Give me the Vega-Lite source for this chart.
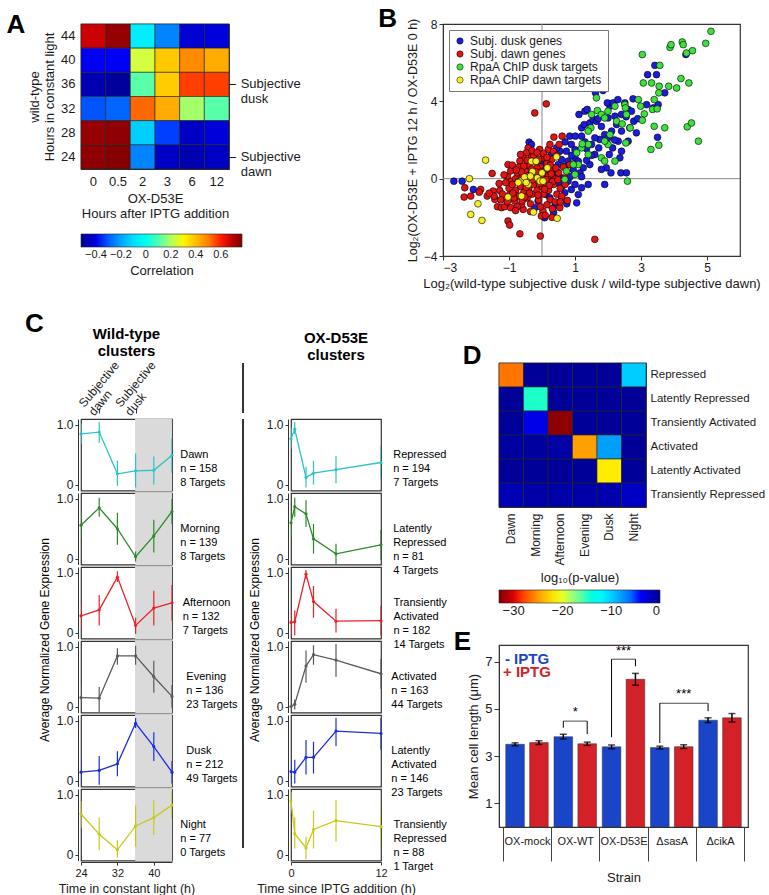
{
"$schema": "https://vega.github.io/schema/vega-lite/v6.json",
"config": {
  "font": "Liberation Sans",
  "axis": {"labelFontSize": 12, "titleFontSize": 12.5, "titleFontWeight": "normal", "labelColor": "#1a1a1a", "titleColor": "#1a1a1a", "domainColor": "#333", "tickColor": "#333", "grid": false, "labelOverlap": false},
  "view": {"stroke": "#333", "strokeWidth": 1.2},
  "legend": {"labelColor": "#1a1a1a", "titleColor": "#1a1a1a", "titleFontWeight": "normal"},
  "title": {"color": "#000"}
},
"spacing": 20,
"vconcat": [
 {"hconcat": [
  {
   "title": {"text": "A", "fontSize": 26, "fontWeight": "bold", "anchor": "start", "frame": "bounds", "dx": -22, "dy": 18},
   "width": 148, "height": 145,
   "layer": [
    {"data": {"values": [
    {"wt": 44, "ox": "0", "r": 0.67}, {"wt": 44, "ox": "0.5", "r": 0.74}, {"wt": 44, "ox": "2", "r": -0.07}, {"wt": 44, "ox": "3", "r": -0.25}, {"wt": 44, "ox": "6", "r": -0.42}, {"wt": 44, "ox": "12", "r": -0.41},
    {"wt": 40, "ox": "0", "r": -0.375}, {"wt": 40, "ox": "0.5", "r": -0.37}, {"wt": 40, "ox": "2", "r": 0.24}, {"wt": 40, "ox": "3", "r": 0.38}, {"wt": 40, "ox": "6", "r": 0.48}, {"wt": 40, "ox": "12", "r": 0.43},
    {"wt": 36, "ox": "0", "r": -0.47}, {"wt": 36, "ox": "0.5", "r": -0.5}, {"wt": 36, "ox": "2", "r": 0.11}, {"wt": 36, "ox": "3", "r": 0.376}, {"wt": 36, "ox": "6", "r": 0.577}, {"wt": 36, "ox": "12", "r": 0.577},
    {"wt": 32, "ox": "0", "r": -0.31}, {"wt": 32, "ox": "0.5", "r": -0.29}, {"wt": 32, "ox": "2", "r": 0.53}, {"wt": 32, "ox": "3", "r": 0.43}, {"wt": 32, "ox": "6", "r": 0.19}, {"wt": 32, "ox": "12", "r": 0.11},
    {"wt": 28, "ox": "0", "r": 0.74}, {"wt": 28, "ox": "0.5", "r": 0.75}, {"wt": 28, "ox": "2", "r": -0.13}, {"wt": 28, "ox": "3", "r": -0.33}, {"wt": 28, "ox": "6", "r": -0.44}, {"wt": 28, "ox": "12", "r": -0.41},
    {"wt": 24, "ox": "0", "r": 0.75}, {"wt": 24, "ox": "0.5", "r": 0.76}, {"wt": 24, "ox": "2", "r": -0.25}, {"wt": 24, "ox": "3", "r": -0.44}, {"wt": 24, "ox": "6", "r": -0.47}, {"wt": 24, "ox": "12", "r": -0.44}
    ]},
     "mark": {"type": "rect", "stroke": "#222", "strokeWidth": 0.6},
     "encoding": {
      "x": {"field": "ox", "type": "ordinal", "sort": ["0", "0.5", "2", "3", "6", "12"], "axis": {"title": ["OX-D53E", "Hours after IPTG addition"], "labelAngle": 0, "ticks": false, "domain": false, "labelFontSize": 13, "titleFontSize": 13, "labelPadding": 6}},
      "y": {"field": "wt", "type": "ordinal", "sort": [44, 40, 36, 32, 28, 24], "axis": {"title": ["wild-type", "Hours in constant light"], "ticks": false, "domain": false, "labelFontSize": 13, "titleFontSize": 13, "labelPadding": 6}},
      "color": {"field": "r", "type": "quantitative",
        "scale": {"domain": [-0.52, -0.359, -0.036, 0.286, 0.609, 0.77], "range": ["#00008f", "#0000ff", "#00ffff", "#ffff00", "#ff0000", "#800000"]},
        "legend": {"orient": "bottom", "direction": "horizontal", "gradientLength": 161, "gradientThickness": 13, "gradientStrokeColor": "#222", "gradientStrokeWidth": 0.6, "title": "Correlation", "titleOrient": "bottom", "titleAnchor": "middle", "titleFontSize": 13, "labelFontSize": 11, "values": [-0.4, -0.2, 0, 0.2, 0.4, 0.6], "labelExpr": "datum.value == 0 ? '0' : format(datum.value, '.1f')", "labelOverlap": false, "offset": 14}}
     }},
    {"data": {"values": [{"wt": 36, "s": "Subjective\ndusk"}, {"wt": 24, "s": "Subjective\ndawn"}]},
     "mark": {"type": "text", "align": "left", "baseline": "middle", "lineBreak": "\n", "fontSize": 13, "lineHeight": 15, "dx": 24, "color": "#1a1a1a"},
     "encoding": {"x": {"datum": "12", "type": "ordinal"}, "y": {"field": "wt", "type": "ordinal", "sort": [44, 40, 36, 32, 28, 24]}, "text": {"field": "s"}}},
    {"data": {"values": [{"wt": 36}, {"wt": 24}]},
     "mark": {"type": "text", "align": "left", "baseline": "middle", "fontSize": 13, "dx": 12, "text": "–", "color": "#000"},
     "encoding": {"x": {"datum": "12", "type": "ordinal"}, "y": {"field": "wt", "type": "ordinal", "sort": [44, 40, 36, 32, 28, 24]}}}
   ]
  },
  {
   "title": {"text": "B", "fontSize": 26, "fontWeight": "bold", "anchor": "start", "frame": "bounds", "dx": -28, "dy": 18},
   "width": 297, "height": 232,
   "layer": [
    {"data": {"values": [{"v": 0}]}, "mark": {"type": "rule", "color": "#888", "strokeWidth": 1}, "encoding": {"x": {"field": "v", "type": "quantitative"}}},
    {"data": {"values": [{"v": 0}]}, "mark": {"type": "rule", "color": "#888", "strokeWidth": 1}, "encoding": {"y": {"field": "v", "type": "quantitative"}}},
    {"data": {"values": [
{"g":"a","x":-2.67,"y":-0.13},{"g":"a","x":-2.42,"y":-0.13},{"g":"a","x":-2.08,"y":-0.56},{"g":"a","x":-0.39,"y":1.89},{"g":"a","x":-0.32,"y":1.77},{"g":"a","x":-0.05,"y":0.82},{"g":"a","x":0.29,"y":1.25},{"g":"a","x":0.13,"y":0.99},{"g":"a","x":0.03,"y":0.65},{"g":"a","x":0.34,"y":0.13},{"g":"a","x":0.29,"y":-0.13},{"g":"a","x":0.13,"y":-0.82},{"g":"a","x":-0.12,"y":-1.16},{"g":"a","x":-0.22,"y":-1.5},{"g":"a","x":0.08,"y":-2.02},{"g":"a","x":0.19,"y":-0.47},{"g":"a","x":0.24,"y":-0.99},{"g":"a","x":0.39,"y":-1.42},{"g":"a","x":0.59,"y":-1.07},{"g":"a","x":0.69,"y":-0.73},{"g":"a","x":0.89,"y":-0.56},{"g":"a","x":1.05,"y":-1.25},{"g":"a","x":0.79,"y":-0.13},{"g":"a","x":0.59,"y":0.04},{"g":"a","x":0.44,"y":0.39},{"g":"a","x":0.49,"y":0.73},{"g":"a","x":0.59,"y":0.99},{"g":"a","x":0.74,"y":1.42},{"g":"a","x":0.89,"y":1.77},{"g":"a","x":0.84,"y":2.2},{"g":"a","x":1.01,"y":2.2},{"g":"a","x":1.2,"y":2.2},{"g":"a","x":1.2,"y":2.63},{"g":"a","x":1.12,"y":3.32},{"g":"a","x":1.3,"y":3.49},{"g":"a","x":1.37,"y":3.58},{"g":"a","x":1.28,"y":2.8},{"g":"a","x":1.45,"y":2.88},{"g":"a","x":1.55,"y":3.06},{"g":"a","x":1.65,"y":2.97},{"g":"a","x":1.75,"y":2.03},{"g":"a","x":1.9,"y":2.28},{"g":"a","x":2.11,"y":2.46},{"g":"a","x":2.41,"y":2.46},{"g":"a","x":2.26,"y":2.8},{"g":"a","x":2.0,"y":3.14},{"g":"a","x":2.21,"y":3.23},{"g":"a","x":2.06,"y":3.75},{"g":"a","x":1.98,"y":3.92},{"g":"a","x":2.15,"y":3.92},{"g":"a","x":2.3,"y":4.09},{"g":"a","x":2.51,"y":3.92},{"g":"a","x":2.76,"y":4.13},{"g":"a","x":2.61,"y":3.58},{"g":"a","x":2.71,"y":3.49},{"g":"a","x":2.86,"y":2.37},{"g":"a","x":2.41,"y":3.32},{"g":"a","x":1.85,"y":4.56},{"g":"a","x":1.62,"y":4.44},{"g":"a","x":1.68,"y":5.33},{"g":"a","x":3.42,"y":5.86},{"g":"a","x":3.47,"y":5.38},{"g":"a","x":3.2,"y":5.38},{"g":"a","x":4.36,"y":6.42},{"g":"a","x":3.72,"y":4.44},{"g":"a","x":3.5,"y":2.14},{"g":"a","x":3.52,"y":3.83},{"g":"a","x":3.37,"y":3.66},{"g":"a","x":3.17,"y":3.83},{"g":"a","x":2.66,"y":2.63},{"g":"a","x":2.78,"y":2.97},{"g":"a","x":1.4,"y":-0.3},{"g":"a","x":1.2,"y":-0.47},{"g":"a","x":1.1,"y":-0.82},{"g":"a","x":1.9,"y":-0.3},{"g":"a","x":1.95,"y":0.56},{"g":"a","x":2.09,"y":0.3},{"g":"a","x":2.39,"y":0.3},{"g":"a","x":2.56,"y":0.3},{"g":"a","x":2.14,"y":1.59},{"g":"a","x":2.41,"y":1.42},{"g":"a","x":2.61,"y":1.94},{"g":"a","x":2.36,"y":1.08},{"g":"a","x":1.5,"y":1.77},{"g":"a","x":1.6,"y":2.11},{"g":"a","x":1.72,"y":1.59},{"g":"a","x":1.6,"y":1.25},{"g":"a","x":1.45,"y":0.73},{"g":"a","x":1.25,"y":0.56},{"g":"a","x":1.15,"y":0.3},{"g":"a","x":1.0,"y":1.08},{"g":"a","x":0.79,"y":0.91},{"g":"a","x":0.69,"y":0.65},{"g":"a","x":0.54,"y":1.42},{"g":"a","x":0.44,"y":1.59},{"g":"a","x":2.04,"y":1.25},{"g":"a","x":1.8,"y":0.48},{"g":"a","x":2.31,"y":1.94},{"g":"a","x":2.0,"y":2.11},{"g":"a","x":1.3,"y":1.9},{"g":"a","x":1.0,"y":1.5},{"g":"a","x":0.9,"y":1.2},{"g":"a","x":1.1,"y":0.9},{"g":"a","x":0.7,"y":1.9},{"g":"a","x":1.5,"y":1.2},{"g":"a","x":1.35,"y":1.55},{"g":"a","x":0.95,"y":0.45},{"g":"a","x":1.2,"y":0.1},{"g":"a","x":0.85,"y":0.1},{"g":"a","x":0.6,"y":-0.4},{"g":"a","x":1.0,"y":-0.3},{"g":"a","x":0.3,"y":0.6},{"g":"a","x":0.2,"y":0.3},{"g":"a","x":0.5,"y":-0.2},{"g":"a","x":2.55,"y":3.2},{"g":"a","x":2.2,"y":2.0},{"g":"a","x":1.8,"y":2.7},{"g":"a","x":1.7,"y":3.1},{"g":"a","x":2.9,"y":3.1},{"g":"a","x":1.35,"y":0.95},{"g":"a","x":0.75,"y":-1.3},{"g":"a","x":0.35,"y":-1.75},
{"g":"b","x":-0.22,"y":3.4},{"g":"b","x":0.13,"y":3.87},{"g":"b","x":1.6,"y":-3.14},{"g":"b","x":-0.05,"y":-2.97},{"g":"b","x":-0.67,"y":-2.85},{"g":"b","x":-1.03,"y":-2.19},{"g":"b","x":-0.98,"y":-2.4},{"g":"b","x":-1.51,"y":0.27},{"g":"b","x":-2.34,"y":-0.47},{"g":"b","x":-2.36,"y":-0.95},{"g":"b","x":-2.16,"y":-0.9},{"g":"b","x":-1.86,"y":-0.56},{"g":"b","x":-1.66,"y":-0.9},{"g":"b","x":-1.48,"y":-0.64},{"g":"b","x":-1.43,"y":-1.07},{"g":"b","x":-1.35,"y":-1.45},{"g":"b","x":-1.28,"y":-0.61},{"g":"b","x":-1.23,"y":-1.5},{"g":"b","x":-1.13,"y":-1.45},{"g":"b","x":-1.03,"y":0.73},{"g":"b","x":-1.05,"y":0.13},{"g":"b","x":-0.93,"y":-0.13},{"g":"b","x":-0.42,"y":1.59},{"g":"b","x":-0.32,"y":1.16},{"g":"b","x":-0.47,"y":1.34},{"g":"b","x":-0.57,"y":1.08},{"g":"b","x":-0.67,"y":0.91},{"g":"b","x":0.03,"y":1.08},{"g":"b","x":-0.07,"y":1.51},{"g":"b","x":0.19,"y":1.51},{"g":"b","x":0.24,"y":1.77},{"g":"b","x":0.36,"y":2.15},{"g":"b","x":0.61,"y":2.2},{"g":"b","x":0.52,"y":1.77},{"g":"b","x":0.77,"y":-1.13},{"g":"b","x":0.54,"y":-1.5},{"g":"b","x":0.31,"y":-1.56},{"g":"b","x":0.03,"y":-1.68},{"g":"b","x":-0.02,"y":-1.93},{"g":"b","x":-0.57,"y":-1.59},{"g":"b","x":-0.62,"y":-1.33},{"g":"b","x":-0.83,"y":-1.16},{"g":"b","x":-0.98,"y":-0.82},{"g":"b","x":-1.13,"y":-1.0},{"g":"b","x":0.69,"y":0.04},{"g":"b","x":0.84,"y":0.73},
{"g":"b","x":-1.0,"y":-0.5},{"g":"b","x":-0.9,"y":-0.3},{"g":"b","x":-0.8,"y":-0.6},{"g":"b","x":-0.8,"y":0.0},{"g":"b","x":-0.75,"y":0.3},{"g":"b","x":-0.7,"y":-0.9},{"g":"b","x":-0.7,"y":0.6},{"g":"b","x":-0.65,"y":-0.4},{"g":"b","x":-0.6,"y":0.1},{"g":"b","x":-0.55,"y":-0.7},{"g":"b","x":-0.5,"y":0.4},{"g":"b","x":-0.5,"y":-0.2},{"g":"b","x":-0.45,"y":-1.0},{"g":"b","x":-0.4,"y":0.7},{"g":"b","x":-0.4,"y":-0.5},{"g":"b","x":-0.35,"y":0.2},{"g":"b","x":-0.3,"y":-0.8},{"g":"b","x":-0.3,"y":0.5},{"g":"b","x":-0.25,"y":-0.3},{"g":"b","x":-0.2,"y":0.9},{"g":"b","x":-0.2,"y":0.0},{"g":"b","x":-0.15,"y":-0.6},{"g":"b","x":-0.1,"y":0.3},{"g":"b","x":-0.1,"y":-1.1},{"g":"b","x":-0.05,"y":0.6},{"g":"b","x":0.0,"y":-0.4},{"g":"b","x":0.0,"y":0.1},{"g":"b","x":0.05,"y":-0.8},{"g":"b","x":0.1,"y":0.45},{"g":"b","x":0.1,"y":-0.2},{"g":"b","x":0.15,"y":0.8},{"g":"b","x":0.2,"y":-0.6},{"g":"b","x":0.2,"y":0.15},{"g":"b","x":0.25,"y":-1.1},{"g":"b","x":0.3,"y":0.5},{"g":"b","x":0.35,"y":-0.3},{"g":"b","x":0.4,"y":0.0},{"g":"b","x":0.45,"y":-0.8},{"g":"b","x":0.5,"y":0.3},{"g":"b","x":0.55,"y":-0.5},{"g":"b","x":-0.95,"y":0.4},{"g":"b","x":-0.85,"y":-1.0},{"g":"b","x":-0.6,"y":-1.15},{"g":"b","x":-0.45,"y":0.95},{"g":"b","x":-0.25,"y":1.2},{"g":"b","x":0.05,"y":1.3},{"g":"b","x":0.3,"y":1.0},{"g":"b","x":-0.9,"y":0.7},{"g":"b","x":-1.1,"y":-0.2},{"g":"b","x":-1.15,"y":0.2},{"g":"b","x":-1.2,"y":-0.8},{"g":"b","x":-0.65,"y":1.25},{"g":"b","x":-0.35,"y":-1.3},{"g":"b","x":0.15,"y":-1.35},{"g":"b","x":0.4,"y":-1.2},{"g":"b","x":0.6,"y":-0.9},{"g":"b","x":0.65,"y":0.6},{"g":"b","x":-0.55,"y":0.65},{"g":"b","x":-0.15,"y":0.55},{"g":"b","x":0.25,"y":0.7},{"g":"b","x":-0.72,"y":-0.15},{"g":"b","x":-0.48,"y":-0.45},{"g":"b","x":-0.28,"y":-0.05},{"g":"b","x":-0.08,"y":-0.25},{"g":"b","x":0.12,"y":-0.05},{"g":"b","x":0.32,"y":-0.15},{"g":"b","x":-0.62,"y":0.35},{"g":"b","x":-0.38,"y":-0.75},{"g":"b","x":-0.18,"y":0.35},{"g":"b","x":0.02,"y":0.35},{"g":"b","x":0.22,"y":-0.35},{"g":"b","x":0.42,"y":0.55},{"g":"b","x":-0.88,"y":-0.75},{"g":"b","x":-0.52,"y":-0.95},{"g":"b","x":-0.12,"y":-0.85},{"g":"b","x":0.08,"y":-0.55},{"g":"b","x":0.28,"y":0.25},{"g":"b","x":-0.78,"y":0.45},{"g":"b","x":-0.42,"y":0.15},{"g":"b","x":0.48,"y":-0.05},{"g":"b","x":-1.25,"y":-1.1},{"g":"b","x":-1.45,"y":-0.9},{"g":"b","x":-1.6,"y":-0.75},{"g":"b","x":-1.9,"y":-0.7},{"g":"b","x":-1.3,"y":-0.25},{"g":"b","x":-1.05,"y":-1.2},{"g":"b","x":-0.95,"y":-1.5},{"g":"b","x":-0.75,"y":-1.45},{"g":"b","x":-0.8,"y":-1.65},{"g":"b","x":-0.35,"y":-1.7},{"g":"b","x":0.3,"y":-2.0},{"g":"b","x":0.1,"y":-1.9},{"g":"b","x":-0.05,"y":-1.45},{"g":"b","x":0.55,"y":-1.2},{"g":"b","x":0.35,"y":1.4},{"g":"b","x":-0.1,"y":1.0},{"g":"b","x":-0.3,"y":1.45},{"g":"b","x":0.45,"y":1.2},{"g":"b","x":0.7,"y":-0.3},{"g":"b","x":0.15,"y":1.1},{"g":"b","x":-0.15,"y":1.35},
{"g":"c","x":1.6,"y":6.42},{"g":"c","x":1.65,"y":4.18},{"g":"c","x":1.48,"y":2.63},{"g":"c","x":1.68,"y":3.52},{"g":"c","x":1.8,"y":3.32},{"g":"c","x":1.9,"y":3.14},{"g":"c","x":2.0,"y":3.49},{"g":"c","x":2.06,"y":2.28},{"g":"c","x":2.0,"y":1.77},{"g":"c","x":1.8,"y":1.08},{"g":"c","x":1.9,"y":0.91},{"g":"c","x":2.21,"y":0.91},{"g":"c","x":2.26,"y":2.97},{"g":"c","x":2.43,"y":2.83},{"g":"c","x":2.51,"y":3.83},{"g":"c","x":2.53,"y":3.66},{"g":"c","x":2.56,"y":3.32},{"g":"c","x":2.54,"y":1.85},{"g":"c","x":2.59,"y":-0.13},{"g":"c","x":2.67,"y":2.63},{"g":"c","x":2.92,"y":4.09},{"g":"c","x":2.99,"y":3.75},{"g":"c","x":3.04,"y":6.42},{"g":"c","x":3.07,"y":4.95},{"g":"c","x":3.1,"y":3.35},{"g":"c","x":3.04,"y":3.02},{"g":"c","x":3.3,"y":1.51},{"g":"c","x":3.32,"y":4.95},{"g":"c","x":3.35,"y":3.58},{"g":"c","x":3.4,"y":4.09},{"g":"c","x":3.4,"y":2.71},{"g":"c","x":3.49,"y":3.61},{"g":"c","x":3.54,"y":4.44},{"g":"c","x":3.55,"y":4.78},{"g":"c","x":3.57,"y":5.86},{"g":"c","x":3.54,"y":1.73},{"g":"c","x":3.72,"y":2.63},{"g":"c","x":3.84,"y":4.78},{"g":"c","x":3.88,"y":6.79},{"g":"c","x":3.91,"y":6.93},{"g":"c","x":4.08,"y":4.69},{"g":"c","x":4.21,"y":5.18},{"g":"c","x":4.25,"y":7.07},{"g":"c","x":4.28,"y":6.93},{"g":"c","x":4.38,"y":6.5},{"g":"c","x":4.4,"y":2.68},{"g":"c","x":4.45,"y":4.95},{"g":"c","x":4.53,"y":2.88},{"g":"c","x":4.56,"y":6.62},{"g":"c","x":4.74,"y":1.94},{"g":"c","x":4.96,"y":7.0},{"g":"c","x":5.12,"y":7.62},{"g":"c","x":1.4,"y":2.46},{"g":"c","x":1.1,"y":0.73},{"g":"c","x":1.2,"y":1.59},{"g":"c","x":1.4,"y":1.77},{"g":"c","x":1.0,"y":0.22},{"g":"c","x":0.95,"y":0.73},{"g":"c","x":1.05,"y":1.34},{"g":"c","x":1.22,"y":1.8},{"g":"c","x":0.69,"y":-0.04},{"g":"c","x":0.74,"y":0.39},{"g":"c","x":1.5,"y":3.32},{"g":"c","x":2.21,"y":3.75},{"g":"c","x":1.4,"y":1.25},{"g":"c","x":1.9,"y":1.94},
{"g":"d","x":-2.2,"y":0.0},{"g":"d","x":-2.16,"y":-1.85},{"g":"d","x":-1.94,"y":-1.3},{"g":"d","x":-1.82,"y":-2.16},{"g":"d","x":-1.71,"y":0.96},{"g":"d","x":-1.03,"y":-0.95},{"g":"d","x":-0.65,"y":-0.13},{"g":"d","x":-0.62,"y":-0.9},{"g":"d","x":-0.53,"y":0.08},{"g":"d","x":-0.42,"y":-0.3},{"g":"d","x":-0.32,"y":0.9},{"g":"d","x":-0.29,"y":0.36},{"g":"d","x":-0.26,"y":-1.73},{"g":"d","x":-0.18,"y":0.9},{"g":"d","x":-0.14,"y":0.04},{"g":"d","x":-0.06,"y":-0.13},{"g":"d","x":0.0,"y":0.3},{"g":"d","x":0.03,"y":-0.13},{"g":"d","x":0.16,"y":0.56},{"g":"d","x":0.44,"y":1.13},{"g":"d","x":0.46,"y":-2.05},{"g":"d","x":-0.48,"y":-0.2},{"g":"d","x":-0.72,"y":-0.2},{"g":"d","x":-0.35,"y":0.13}
    ]},
     "mark": {"type": "circle", "size": 46, "stroke": "#000", "strokeWidth": 0.6, "opacity": 1},
     "encoding": {
      "x": {"field": "x", "type": "quantitative", "scale": {"domain": [-3, 6], "nice": false}, "axis": {"title": "Log₂(wild-type subjective dusk / wild-type subjective dawn)", "values": [-3, -2, -1, 0, 1, 2, 3, 4, 5, 6], "labelFontSize": 12, "titleFontSize": 13, "tickSize": 4, "labelOverlap": false}},
      "y": {"field": "y", "type": "quantitative", "scale": {"domain": [-4, 8], "nice": false}, "axis": {"title": "Log₂(OX-D53E + IPTG 12 h / OX-D53E 0 h)", "values": [-4, -2, 0, 2, 4, 6, 8], "labelFontSize": 12, "titleFontSize": 12.5, "tickSize": 4, "labelOverlap": false}},
      "color": {"field": "g", "type": "nominal", "scale": {"domain": ["a", "b", "c", "d"], "range": ["#1c1ce0", "#e01414", "#3ee03e", "#f5ee22"]},
        "legend": {"orient": "top-left", "title": null, "labelExpr": "datum.value == 'a' ? 'Subj. dusk genes' : datum.value == 'b' ? 'Subj. dawn genes' : datum.value == 'c' ? 'RpaA ChIP dusk targets' : 'RpaA ChIP dawn targets'", "labelFontSize": 12, "symbolType": "circle", "symbolSize": 40, "symbolStrokeColor": "#000", "symbolStrokeWidth": 0.5, "strokeColor": "#777", "fillColor": "#fff", "padding": 5, "offset": 6, "rowPadding": 1}}
     }}
   ]
  }
 ], "spacing": 75},
 {"hconcat": [
  {"title": {"text": "C", "fontSize": 26, "fontWeight": "bold", "anchor": "start", "frame": "bounds", "dx": -14, "dy": 14},
   "columns": 3,
   "align": "each",
   "spacing": {"row": 0, "column": 4},
   "concat": [
    {
     "title": {"text": ["Wild-type", "clusters"], "fontSize": 15, "fontWeight": "bold", "anchor": "middle", "frame": "group", "offset": 0},
     "width": 91, "height": 50,
     "view": {"stroke": null},
     "data": {"values": [{"t": 28, "s": "Subjective\ndawn"}, {"t": 36, "s": "Subjective\ndusk"}]},
     "mark": {"type": "text", "angle": -50, "align": "left", "baseline": "middle", "lineBreak": "\n", "lineHeight": 13, "fontSize": 12, "radius": 18, "theta": -1.5708, "color": "#1a1a1a"},
     "encoding": {
      "x": {"field": "t", "type": "quantitative", "scale": {"domain": [24, 44], "nice": false, "zero": false},
        "axis": {"orient": "top", "offset": -50, "title": null, "values": [28, 36], "labels": false, "tickSize": 5, "domain": false}},
      "y": {"datum": 0.15, "type": "quantitative", "scale": {"domain": [0, 1]}, "axis": null},
      "text": {"field": "s"}
     }
    },
    {
     "width": 1, "height": 50,
     "view": {"stroke": null},
     "data": {"values": [{"p": 0}]},
     "mark": {"type": "rule", "color": "#000", "strokeWidth": 1.6},
     "encoding": {"x": {"field": "p", "type": "quantitative", "axis": null, "scale": {"domain": [0, 1]}}}
    },
    {
     "title": {"text": ["OX-D53E", "clusters"], "fontSize": 15, "fontWeight": "bold", "anchor": "middle", "frame": "group", "offset": 0},
     "width": 90, "height": 50,
     "view": {"stroke": null},
     "data": {"values": [{"t": 0}]},
     "mark": {"type": "point", "opacity": 0},
     "encoding": {"x": {"field": "t", "type": "quantitative", "axis": null, "scale": {"domain": [0, 12]}}}
    },
    {
     "data": {"values": [
      {"c":"Dawn|n = 158|8 Targets","t":24,"v":0.85,"lo":0.68,"hi":1.02},{"c":"Dawn|n = 158|8 Targets","t":28,"v":0.88,"lo":0.7,"hi":1.05},{"c":"Dawn|n = 158|8 Targets","t":32,"v":0.18,"lo":-0.02,"hi":0.4},{"c":"Dawn|n = 158|8 Targets","t":36,"v":0.23,"lo":-0.05,"hi":0.52},{"c":"Dawn|n = 158|8 Targets","t":40,"v":0.24,"lo":0.0,"hi":0.47},{"c":"Dawn|n = 158|8 Targets","t":44,"v":0.49,"lo":0.2,"hi":0.78},
      {"c":"Morning|n = 139|8 Targets","t":24,"v":0.56,"lo":0.35,"hi":0.78},{"c":"Morning|n = 139|8 Targets","t":28,"v":0.85,"lo":0.7,"hi":1.02},{"c":"Morning|n = 139|8 Targets","t":32,"v":0.5,"lo":0.23,"hi":0.77},{"c":"Morning|n = 139|8 Targets","t":36,"v":0.03,"lo":-0.05,"hi":0.12},{"c":"Morning|n = 139|8 Targets","t":40,"v":0.38,"lo":0.1,"hi":0.65},{"c":"Morning|n = 139|8 Targets","t":44,"v":0.79,"lo":0.58,"hi":1.0},
      {"c":"Afternoon|n = 132|7 Targets","t":24,"v":0.28,"lo":0.05,"hi":0.5},{"c":"Afternoon|n = 132|7 Targets","t":28,"v":0.38,"lo":0.12,"hi":0.63},{"c":"Afternoon|n = 132|7 Targets","t":32,"v":0.93,"lo":0.85,"hi":1.03},{"c":"Afternoon|n = 132|7 Targets","t":36,"v":0.12,"lo":-0.02,"hi":0.25},{"c":"Afternoon|n = 132|7 Targets","t":40,"v":0.41,"lo":0.12,"hi":0.7},{"c":"Afternoon|n = 132|7 Targets","t":44,"v":0.5,"lo":0.2,"hi":0.8},
      {"c":"Evening|n = 136|23 Targets","t":24,"v":0.15,"lo":-0.05,"hi":0.35},{"c":"Evening|n = 136|23 Targets","t":28,"v":0.14,"lo":-0.1,"hi":0.33},{"c":"Evening|n = 136|23 Targets","t":32,"v":0.85,"lo":0.7,"hi":0.98},{"c":"Evening|n = 136|23 Targets","t":36,"v":0.85,"lo":0.7,"hi":1.02},{"c":"Evening|n = 136|23 Targets","t":40,"v":0.5,"lo":0.23,"hi":0.77},{"c":"Evening|n = 136|23 Targets","t":44,"v":0.17,"lo":-0.02,"hi":0.36},
      {"c":"Dusk|n = 212|49 Targets","t":24,"v":0.14,"lo":-0.05,"hi":0.35},{"c":"Dusk|n = 212|49 Targets","t":28,"v":0.17,"lo":-0.07,"hi":0.41},{"c":"Dusk|n = 212|49 Targets","t":32,"v":0.28,"lo":0.07,"hi":0.49},{"c":"Dusk|n = 212|49 Targets","t":36,"v":0.96,"lo":0.88,"hi":1.05},{"c":"Dusk|n = 212|49 Targets","t":40,"v":0.57,"lo":0.33,"hi":0.81},{"c":"Dusk|n = 212|49 Targets","t":44,"v":0.14,"lo":-0.05,"hi":0.33},
      {"c":"Night|n = 77|0 Targets","t":24,"v":0.68,"lo":0.45,"hi":0.9},{"c":"Night|n = 77|0 Targets","t":28,"v":0.34,"lo":0.07,"hi":0.62},{"c":"Night|n = 77|0 Targets","t":32,"v":0.08,"lo":-0.05,"hi":0.24},{"c":"Night|n = 77|0 Targets","t":36,"v":0.48,"lo":0.13,"hi":0.82},{"c":"Night|n = 77|0 Targets","t":40,"v":0.62,"lo":0.33,"hi":0.91},{"c":"Night|n = 77|0 Targets","t":44,"v":0.83,"lo":0.6,"hi":1.06}
     ]},
     "facet": {"row": {"field": "c", "type": "nominal", "title": "Average Normalized Gene Expression",
       "sort": ["Dawn|n = 158|8 Targets", "Morning|n = 139|8 Targets", "Afternoon|n = 132|7 Targets", "Evening|n = 136|23 Targets", "Dusk|n = 212|49 Targets", "Night|n = 77|0 Targets"],
       "header": {"labelOrient": "right", "labelAngle": 0, "labelAlign": "left", "labelBaseline": "middle", "labelFontSize": 11, "labelLineHeight": 14, "labelPadding": -40, "labelExpr": "split(datum.value, '|')", "titleOrient": "left", "titleFontSize": 12, "titleFontWeight": "normal", "titlePadding": -6}}},
     "spacing": 0,
     "spec": {
      "width": 91, "height": 71.5,
      "layer": [
       {"mark": {"type": "rect", "color": "#dadada"}, "encoding": {"x": {"datum": 36, "type": "quantitative", "scale": {"domain": [24, 44], "nice": false, "zero": false}}, "x2": {"datum": 44}}},
       {"mark": {"type": "rule", "clip": true, "strokeWidth": 1.2},
        "encoding": {
         "x": {"field": "t", "type": "quantitative", "scale": {"domain": [24, 44], "nice": false, "zero": false}, "axis": {"title": "Time in constant light (h)", "values": [24, 28, 32, 36, 40, 44], "tickSize": 3, "labelFontSize": 11, "labelOverlap": false, "labelFlush": false}},
         "y": {"field": "lo", "type": "quantitative", "scale": {"domain": [-0.1, 1.1], "nice": false}, "axis": {"title": null, "values": [0, 0.5, 1], "labelExpr": "datum.value == 0 ? '0' : format(datum.value, '.1f')", "tickSize": 3, "labelOverlap": false}},
         "y2": {"field": "hi"},
         "color": {"field": "c", "type": "nominal", "scale": {"domain": ["Dawn|n = 158|8 Targets", "Morning|n = 139|8 Targets", "Afternoon|n = 132|7 Targets", "Evening|n = 136|23 Targets", "Dusk|n = 212|49 Targets", "Night|n = 77|0 Targets"], "range": ["#2cc4c4", "#2a8a2a", "#ec2027", "#5a5a5a", "#1c2de0", "#c9c91c"]}, "legend": null}
        }},
       {"mark": {"type": "line", "strokeWidth": 1.3, "clip": true},
        "encoding": {"x": {"field": "t", "type": "quantitative"}, "y": {"field": "v", "type": "quantitative"}, "color": {"field": "c", "type": "nominal", "legend": null}}},
       {"mark": {"type": "point", "filled": true, "size": 10, "opacity": 1},
        "encoding": {"x": {"field": "t", "type": "quantitative"}, "y": {"field": "v", "type": "quantitative"}, "color": {"field": "c", "type": "nominal", "legend": null}}}
      ]
     }
    },
    {
     "width": 1, "height": 429,
     "view": {"stroke": null},
     "data": {"values": [{"p": 0}]},
     "mark": {"type": "rule", "color": "#000", "strokeWidth": 1.6},
     "encoding": {"x": {"field": "p", "type": "quantitative", "axis": null, "scale": {"domain": [0, 1]}}}
    },
    {
     "data": {"values": [
      {"c":"Repressed|n = 194|7 Targets","t":0,"v":0.77,"lo":0.6,"hi":0.95},{"c":"Repressed|n = 194|7 Targets","t":0.5,"v":0.93,"lo":0.85,"hi":1.05},{"c":"Repressed|n = 194|7 Targets","t":2,"v":0.12,"lo":-0.05,"hi":0.3},{"c":"Repressed|n = 194|7 Targets","t":3,"v":0.19,"lo":0.0,"hi":0.4},{"c":"Repressed|n = 194|7 Targets","t":6,"v":0.25,"lo":0.02,"hi":0.48},{"c":"Repressed|n = 194|7 Targets","t":12,"v":0.37,"lo":0.1,"hi":0.65},
      {"c":"Latently|Repressed|n = 81|4 Targets","t":0,"v":0.6,"lo":0.35,"hi":0.85},{"c":"Latently|Repressed|n = 81|4 Targets","t":0.5,"v":0.87,"lo":0.7,"hi":1.02},{"c":"Latently|Repressed|n = 81|4 Targets","t":2,"v":0.75,"lo":0.53,"hi":0.98},{"c":"Latently|Repressed|n = 81|4 Targets","t":3,"v":0.33,"lo":0.08,"hi":0.58},{"c":"Latently|Repressed|n = 81|4 Targets","t":6,"v":0.08,"lo":-0.1,"hi":0.25},{"c":"Latently|Repressed|n = 81|4 Targets","t":12,"v":0.23,"lo":-0.02,"hi":0.48},
      {"c":"Transiently|Activated|n = 182|14 Targets","t":0,"v":0.17,"lo":-0.02,"hi":0.36},{"c":"Transiently|Activated|n = 182|14 Targets","t":0.5,"v":0.18,"lo":-0.05,"hi":0.37},{"c":"Transiently|Activated|n = 182|14 Targets","t":2,"v":0.98,"lo":0.9,"hi":1.05},{"c":"Transiently|Activated|n = 182|14 Targets","t":3,"v":0.52,"lo":0.25,"hi":0.78},{"c":"Transiently|Activated|n = 182|14 Targets","t":6,"v":0.19,"lo":0.0,"hi":0.4},{"c":"Transiently|Activated|n = 182|14 Targets","t":12,"v":0.2,"lo":-0.05,"hi":0.45},
      {"c":"Activated|n = 163|44 Targets","t":0,"v":0.0,"lo":-0.05,"hi":0.05},{"c":"Activated|n = 163|44 Targets","t":0.5,"v":0.04,"lo":-0.05,"hi":0.12},{"c":"Activated|n = 163|44 Targets","t":2,"v":0.68,"lo":0.4,"hi":0.94},{"c":"Activated|n = 163|44 Targets","t":3,"v":0.87,"lo":0.7,"hi":1.03},{"c":"Activated|n = 163|44 Targets","t":6,"v":0.78,"lo":0.5,"hi":1.05},{"c":"Activated|n = 163|44 Targets","t":12,"v":0.55,"lo":0.3,"hi":0.8},
      {"c":"Latently|Activated|n = 146|23 Targets","t":0,"v":0.15,"lo":-0.05,"hi":0.35},{"c":"Latently|Activated|n = 146|23 Targets","t":0.5,"v":0.14,"lo":-0.05,"hi":0.35},{"c":"Latently|Activated|n = 146|23 Targets","t":2,"v":0.39,"lo":0.1,"hi":0.68},{"c":"Latently|Activated|n = 146|23 Targets","t":3,"v":0.39,"lo":0.12,"hi":0.65},{"c":"Latently|Activated|n = 146|23 Targets","t":6,"v":0.83,"lo":0.58,"hi":1.05},{"c":"Latently|Activated|n = 146|23 Targets","t":12,"v":0.79,"lo":0.52,"hi":1.05},
      {"c":"Transiently|Repressed|n = 88|1 Target","t":0,"v":0.9,"lo":0.75,"hi":1.05},{"c":"Transiently|Repressed|n = 88|1 Target","t":0.5,"v":0.35,"lo":0.1,"hi":0.62},{"c":"Transiently|Repressed|n = 88|1 Target","t":2,"v":0.11,"lo":-0.08,"hi":0.3},{"c":"Transiently|Repressed|n = 88|1 Target","t":3,"v":0.42,"lo":0.1,"hi":0.74},{"c":"Transiently|Repressed|n = 88|1 Target","t":6,"v":0.57,"lo":0.22,"hi":0.92},{"c":"Transiently|Repressed|n = 88|1 Target","t":12,"v":0.47,"lo":0.15,"hi":0.78}
     ]},
     "facet": {"row": {"field": "c", "type": "nominal", "title": "Average Normalized Gene Expression",
       "sort": ["Repressed|n = 194|7 Targets", "Latently|Repressed|n = 81|4 Targets", "Transiently|Activated|n = 182|14 Targets", "Activated|n = 163|44 Targets", "Latently|Activated|n = 146|23 Targets", "Transiently|Repressed|n = 88|1 Target"],
       "header": {"labelOrient": "right", "labelAngle": 0, "labelAlign": "left", "labelBaseline": "middle", "labelFontSize": 11, "labelLineHeight": 14, "labelPadding": -44, "labelExpr": "split(datum.value, '|')", "titleOrient": "left", "titleFontSize": 12, "titleFontWeight": "normal", "titlePadding": -6}}},
     "spacing": 0,
     "spec": {
      "width": 90, "height": 71.5,
      "layer": [
       {"mark": {"type": "rule", "clip": true, "strokeWidth": 1.2},
        "encoding": {
         "x": {"field": "t", "type": "quantitative", "scale": {"domain": [0, 12], "nice": false}, "axis": {"title": "Time since IPTG addition (h)", "values": [0, 2, 4, 6, 8, 10, 12], "tickSize": 3, "labelFontSize": 11, "labelOverlap": false, "labelFlush": false}},
         "y": {"field": "lo", "type": "quantitative", "scale": {"domain": [-0.1, 1.1], "nice": false}, "axis": {"title": null, "values": [0, 0.5, 1], "labelExpr": "datum.value == 0 ? '0' : format(datum.value, '.1f')", "tickSize": 3, "labelOverlap": false}},
         "y2": {"field": "hi"},
         "color": {"field": "c", "type": "nominal", "scale": {"domain": ["Repressed|n = 194|7 Targets", "Latently|Repressed|n = 81|4 Targets", "Transiently|Activated|n = 182|14 Targets", "Activated|n = 163|44 Targets", "Latently|Activated|n = 146|23 Targets", "Transiently|Repressed|n = 88|1 Target"], "range": ["#1c2de0", "#c9c91c", "#c21fc9", "#5a5a5a", "#ec2027", "#2cc4c4"]}, "legend": null}
        }},
       {"mark": {"type": "line", "strokeWidth": 1.3, "clip": true},
        "encoding": {"x": {"field": "t", "type": "quantitative"}, "y": {"field": "v", "type": "quantitative"}, "color": {"field": "c", "type": "nominal", "legend": null}}},
       {"mark": {"type": "point", "filled": true, "size": 10, "opacity": 1},
        "encoding": {"x": {"field": "t", "type": "quantitative"}, "y": {"field": "v", "type": "quantitative"}, "color": {"field": "c", "type": "nominal", "legend": null}}}
      ]
     }
    }
   ]
  },
  {"spacing": 8,
   "vconcat": [
    {
     "title": {"text": "D", "fontSize": 26, "fontWeight": "bold", "anchor": "start", "frame": "bounds", "dx": -36, "dy": 10},
     "width": 147, "height": 144,
     "data": {"values": [
      {"wt":"Dawn","ox":"Repressed","p":-26.4},{"wt":"Morning","ox":"Repressed","p":-0.4},{"wt":"Afternoon","ox":"Repressed","p":-0.4},{"wt":"Evening","ox":"Repressed","p":-0.4},{"wt":"Dusk","ox":"Repressed","p":-0.4},{"wt":"Night","ox":"Repressed","p":-9.9},
      {"wt":"Dawn","ox":"Latently Repressed","p":-0.4},{"wt":"Morning","ox":"Latently Repressed","p":-14.9},{"wt":"Afternoon","ox":"Latently Repressed","p":-0.4},{"wt":"Evening","ox":"Latently Repressed","p":-0.4},{"wt":"Dusk","ox":"Latently Repressed","p":-0.4},{"wt":"Night","ox":"Latently Repressed","p":-0.4},
      {"wt":"Dawn","ox":"Transiently Activated","p":-0.4},{"wt":"Morning","ox":"Transiently Activated","p":-3.3},{"wt":"Afternoon","ox":"Transiently Activated","p":-32.5},{"wt":"Evening","ox":"Transiently Activated","p":-0.4},{"wt":"Dusk","ox":"Transiently Activated","p":-0.4},{"wt":"Night","ox":"Transiently Activated","p":-0.4},
      {"wt":"Dawn","ox":"Activated","p":-0.6},{"wt":"Morning","ox":"Activated","p":-0.6},{"wt":"Afternoon","ox":"Activated","p":-0.8},{"wt":"Evening","ox":"Activated","p":-24.8},{"wt":"Dusk","ox":"Activated","p":-7.9},{"wt":"Night","ox":"Activated","p":-0.4},
      {"wt":"Dawn","ox":"Latently Activated","p":-0.4},{"wt":"Morning","ox":"Latently Activated","p":-0.4},{"wt":"Afternoon","ox":"Latently Activated","p":-0.4},{"wt":"Evening","ox":"Latently Activated","p":-0.4},{"wt":"Dusk","ox":"Latently Activated","p":-21.5},{"wt":"Night","ox":"Latently Activated","p":-0.4},
      {"wt":"Dawn","ox":"Transiently Repressed","p":-1.4},{"wt":"Morning","ox":"Transiently Repressed","p":-1.0},{"wt":"Afternoon","ox":"Transiently Repressed","p":-1.0},{"wt":"Evening","ox":"Transiently Repressed","p":-1.0},{"wt":"Dusk","ox":"Transiently Repressed","p":-1.2},{"wt":"Night","ox":"Transiently Repressed","p":-2.0}
     ]},
     "mark": {"type": "rect", "stroke": "#222", "strokeWidth": 0.6},
     "encoding": {
      "x": {"field": "wt", "type": "nominal", "sort": ["Dawn", "Morning", "Afternoon", "Evening", "Dusk", "Night"], "axis": {"title": null, "labelAngle": -90, "labelAlign": "right", "labelBaseline": "middle", "ticks": false, "domain": false, "labelFontSize": 12, "labelPadding": 6}},
      "y": {"field": "ox", "type": "nominal", "sort": ["Repressed", "Latently Repressed", "Transiently Activated", "Activated", "Latently Activated", "Transiently Repressed"], "axis": {"orient": "right", "title": null, "ticks": false, "domain": false, "labelFontSize": 11.5, "labelLimit": 200, "labelPadding": 4}},
      "color": {"field": "p", "type": "quantitative",
        "scale": {"domain": [-33, -28.875, -20.625, -12.375, -4.125, 0], "range": ["#800000", "#ff0000", "#ffff00", "#00ffff", "#0000ff", "#00008f"]},
        "legend": {"orient": "bottom", "direction": "horizontal", "gradientLength": 161, "gradientThickness": 13, "gradientStrokeColor": "#222", "gradientStrokeWidth": 0.6, "title": "log₁₀(p-value)", "titleAnchor": "middle", "titleFontSize": 13, "labelFontSize": 13, "values": [-30, -20, -10, 0], "labelOverlap": false, "offset": 6}}
     }
    },
    {
     "title": {"text": "E", "fontSize": 26, "fontWeight": "bold", "anchor": "start", "frame": "bounds", "dx": -14, "dy": 14},
     "width": 249, "height": 182,
     "layer": [
      {"data": {"values": [
        {"strain":"OX-mock","iptg":"- IPTG","len":3.5,"lo":3.44,"hi":3.56},{"strain":"OX-mock","iptg":"+ IPTG","len":3.57,"lo":3.49,"hi":3.65},
        {"strain":"OX-WT","iptg":"- IPTG","len":3.82,"lo":3.72,"hi":3.92},{"strain":"OX-WT","iptg":"+ IPTG","len":3.52,"lo":3.45,"hi":3.59},
        {"strain":"OX-D53E","iptg":"- IPTG","len":3.39,"lo":3.31,"hi":3.47},{"strain":"OX-D53E","iptg":"+ IPTG","len":6.25,"lo":6.0,"hi":6.5},
        {"strain":"ΔsasA","iptg":"- IPTG","len":3.36,"lo":3.3,"hi":3.42},{"strain":"ΔsasA","iptg":"+ IPTG","len":3.4,"lo":3.32,"hi":3.48},
        {"strain":"ΔcikA","iptg":"- IPTG","len":4.52,"lo":4.42,"hi":4.62},{"strain":"ΔcikA","iptg":"+ IPTG","len":4.62,"lo":4.44,"hi":4.8}
       ]},
       "layer": [
        {"mark": {"type": "bar", "stroke": "#333", "strokeWidth": 0.5},
         "encoding": {
          "x": {"field": "strain", "type": "nominal", "sort": ["OX-mock", "OX-WT", "OX-D53E", "ΔsasA", "ΔcikA"], "scale": {"paddingInner": 0, "paddingOuter": 0.08},
            "axis": {"title": "Strain", "labelAngle": 0, "labelFontSize": 11, "titleFontSize": 13, "tickBand": "extent", "tickSize": 34, "tickColor": "#444", "labelPadding": -26, "labelBaseline": "top", "domain": false, "titlePadding": 10}},
          "xOffset": {"field": "iptg", "type": "nominal", "sort": ["- IPTG", "+ IPTG"], "scale": {"paddingInner": 0.22, "paddingOuter": 0.12}},
          "y": {"field": "len", "type": "quantitative", "scale": {"domain": [0, 7.7], "nice": false}, "axis": {"title": "Mean cell length (μm)", "values": [1, 2, 3, 4, 5, 6, 7], "labelFontSize": 13, "titleFontSize": 13, "tickSize": 5}},
          "color": {"field": "iptg", "type": "nominal", "scale": {"domain": ["- IPTG", "+ IPTG"], "range": ["#1b45c8", "#d42127"]}, "legend": null}
         }},
        {"mark": {"type": "rule", "color": "#000", "strokeWidth": 1.5},
         "encoding": {
          "x": {"field": "strain", "type": "nominal", "sort": ["OX-mock", "OX-WT", "OX-D53E", "ΔsasA", "ΔcikA"]},
          "xOffset": {"field": "iptg", "type": "nominal", "sort": ["- IPTG", "+ IPTG"]},
          "y": {"field": "lo", "type": "quantitative"},
          "y2": {"field": "hi"}
         }},
        {"mark": {"type": "tick", "color": "#000", "size": 7, "thickness": 1.5},
         "encoding": {
          "x": {"field": "strain", "type": "nominal", "sort": ["OX-mock", "OX-WT", "OX-D53E", "ΔsasA", "ΔcikA"]},
          "xOffset": {"field": "iptg", "type": "nominal", "sort": ["- IPTG", "+ IPTG"]},
          "y": {"field": "lo", "type": "quantitative"}
         }},
        {"mark": {"type": "tick", "color": "#000", "size": 7, "thickness": 1.5},
         "encoding": {
          "x": {"field": "strain", "type": "nominal", "sort": ["OX-mock", "OX-WT", "OX-D53E", "ΔsasA", "ΔcikA"]},
          "xOffset": {"field": "iptg", "type": "nominal", "sort": ["- IPTG", "+ IPTG"]},
          "y": {"field": "hi", "type": "quantitative"}
         }}
       ]},
      {"data": {"values": [
        {"strain":"OX-WT","iptg":"- IPTG","y1":4.2,"y2":4.48},{"strain":"OX-WT","iptg":"+ IPTG","y1":3.93,"y2":4.48},
        {"strain":"OX-D53E","iptg":"- IPTG","y1":3.8,"y2":7.1},{"strain":"OX-D53E","iptg":"+ IPTG","y1":6.8,"y2":7.1},
        {"strain":"ΔsasA","iptg":"- IPTG","y1":3.55,"y2":5.24},{"strain":"ΔcikA","iptg":"- IPTG","y1":4.9,"y2":5.24}
       ]},
       "mark": {"type": "rule", "color": "#000", "strokeWidth": 1},
       "encoding": {
        "x": {"field": "strain", "type": "nominal", "sort": ["OX-mock", "OX-WT", "OX-D53E", "ΔsasA", "ΔcikA"]},
        "xOffset": {"field": "iptg", "type": "nominal", "sort": ["- IPTG", "+ IPTG"]},
        "y": {"field": "y1", "type": "quantitative"},
        "y2": {"field": "y2"}
       }},
      {"data": {"values": [{"strain":"OX-WT","y":4.48},{"strain":"OX-D53E","y":7.1}]},
       "mark": {"type": "tick", "color": "#000", "size": 24, "thickness": 1},
       "encoding": {"x": {"field": "strain", "type": "nominal", "sort": ["OX-mock", "OX-WT", "OX-D53E", "ΔsasA", "ΔcikA"]}, "y": {"field": "y", "type": "quantitative"}}},
      {"data": {"values": [{"strain":"ΔsasA","iptg":"+ IPTG","y":5.24}]},
       "mark": {"type": "tick", "color": "#000", "size": 48, "thickness": 1},
       "encoding": {"x": {"field": "strain", "type": "nominal", "sort": ["OX-mock", "OX-WT", "OX-D53E", "ΔsasA", "ΔcikA"]}, "xOffset": {"field": "iptg", "type": "nominal", "sort": ["- IPTG", "+ IPTG"]}, "y": {"field": "y", "type": "quantitative"}}},
      {"data": {"values": [{"strain":"OX-WT","y":4.55,"s":"*"},{"strain":"OX-D53E","y":7.17,"s":"***"}]},
       "mark": {"type": "text", "fontSize": 13, "baseline": "bottom"},
       "encoding": {"x": {"field": "strain", "type": "nominal", "sort": ["OX-mock", "OX-WT", "OX-D53E", "ΔsasA", "ΔcikA"]}, "y": {"field": "y", "type": "quantitative"}, "text": {"field": "s"}}},
      {"data": {"values": [{"strain":"ΔsasA","iptg":"+ IPTG","y":5.31,"s":"***"}]},
       "mark": {"type": "text", "fontSize": 13, "baseline": "bottom"},
       "encoding": {"x": {"field": "strain", "type": "nominal", "sort": ["OX-mock", "OX-WT", "OX-D53E", "ΔsasA", "ΔcikA"]}, "xOffset": {"field": "iptg", "type": "nominal", "sort": ["- IPTG", "+ IPTG"]}, "y": {"field": "y", "type": "quantitative"}, "text": {"field": "s"}}},
      {"data": {"values": [{"s": "- IPTG", "y": 7.12}, {"s": "+ IPTG", "y": 6.55}]},
       "mark": {"type": "text", "fontSize": 15, "fontWeight": "bold", "align": "center", "baseline": "middle"},
       "encoding": {"x": {"datum": "OX-mock", "type": "nominal"}, "y": {"field": "y", "type": "quantitative"}, "text": {"field": "s"}, "color": {"field": "s", "type": "nominal", "legend": null}}}
     ]
    }
   ]}
 ], "spacing": 6}
]
}
